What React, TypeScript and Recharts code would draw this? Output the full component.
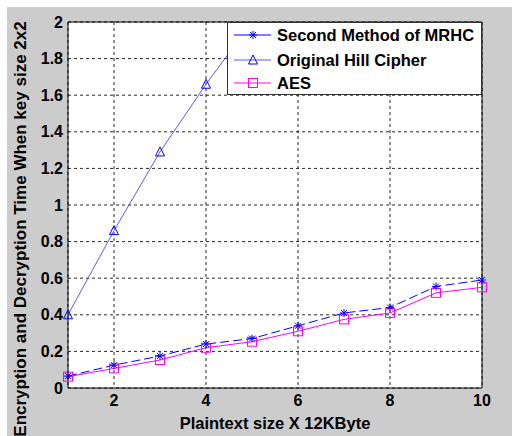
import React from 'react'
import { LineChart, Line, XAxis, YAxis, CartesianGrid, ReferenceLine } from 'recharts'

// plaintext size (x 12KByte)
const sizes = [1, 2, 3, 4, 5, 6, 7, 8, 9, 10]
// time values
const mrhc = [0.065, 0.125, 0.175, 0.24, 0.27, 0.34, 0.41, 0.44, 0.555, 0.59]
const hill = [0.4, 0.86, 1.29, 1.66, 2.0, 2.38, 2.74, 3.1, 3.46, 3.82]
const aes = [0.062, 0.107, 0.153, 0.22, 0.253, 0.31, 0.375, 0.41, 0.52, 0.55]

const xTicks = [2, 4, 6, 8, 10]
const yTicks = [0, 0.2, 0.4, 0.6, 0.8, 1, 1.2, 1.4, 1.6, 1.8, 2]

const seriesNames = ['Second Method of MRHC', 'Original Hill Cipher', 'AES']

const data = sizes.map((x, i) => ({ x, mrhc: mrhc[i], hill: hill[i], aes: aes[i] }))

const FONT = 'Arial, "Liberation Sans", Helvetica, sans-serif'
const BLUE = '#0000ff'
const LIGHT_BLUE = '#5a5aff'
const MAGENTA = '#ff00ff'

const Star = (p: any) => {
  const { cx, cy, index } = p
  if (cx == null || cy == null) return null
  const r = 4
  return (
    <g key={'s' + index} stroke={BLUE} strokeWidth={1}>
      <line x1={cx - r} y1={cy} x2={cx + r} y2={cy} />
      <line x1={cx} y1={cy - r} x2={cx} y2={cy + r} />
      <line x1={cx - 3} y1={cy - 3} x2={cx + 3} y2={cy + 3} />
      <line x1={cx - 3} y1={cy + 3} x2={cx + 3} y2={cy - 3} />
    </g>
  )
}

const Tri = (p: any) => {
  const { cx, cy, index } = p
  if (cx == null || cy == null) return null
  return (
    <polygon key={'t' + index} points={`${cx},${cy - 5} ${cx - 4.5},${cy + 4} ${cx + 4.5},${cy + 4}`}
      fill="none" stroke={BLUE} strokeWidth={1} />
  )
}

const Sq = (p: any) => {
  const { cx, cy, index } = p
  if (cx == null || cy == null) return null
  return <rect key={'q' + index} x={cx - 4.5} y={cy - 4.5} width={9} height={9} fill="none" stroke={MAGENTA} strokeWidth={1} />
}

function LegendBox() {
  const rows = [
    { y: 12, color: BLUE, mark: 'star' },
    { y: 37, color: LIGHT_BLUE, mark: 'tri' },
    { y: 60, color: MAGENTA, mark: 'sq' },
  ]
  return (
    <div style={{ position: 'absolute', left: 227, top: 22, width: 255, height: 73, background: '#fff', border: '1px solid #333', boxSizing: 'border-box' }}>
      <svg width={253} height={71} style={{ display: 'block' }}>
        {rows.map((r, i) => (
          <g key={i}>
            <line x1={6} y1={r.y} x2={43} y2={r.y} stroke={r.color} strokeWidth={1.2} />
            {r.mark === 'star' && Star({ cx: 25, cy: r.y, index: 'l' })}
            {r.mark === 'tri' && Tri({ cx: 25, cy: r.y, index: 'l' })}
            {r.mark === 'sq' && Sq({ cx: 25, cy: r.y, index: 'l' })}
            <text x={49} y={r.y} dominantBaseline="central" fontFamily={FONT} fontWeight="bold" fontSize={16.5} fill="#000">
              {seriesNames[i]}
            </text>
          </g>
        ))}
      </svg>
    </div>
  )
}

export default function App() {
  const tickStyle = { fontFamily: FONT, fontWeight: 'bold', fontSize: 16, fill: '#000' }
  return (
    <div style={{ position: 'absolute', left: 0, top: 0, width: 512, height: 436, background: '#fff', overflow: 'hidden' }}>
      <div style={{ position: 'absolute', left: 7, top: 7, width: 505, height: 429, background: '#cccccc' }}>
        <LineChart width={505} height={429} data={data} margin={{ top: 15, right: 30, bottom: 0, left: 0 }}>
          <CartesianGrid fill="#ffffff" stroke="#000" strokeDasharray="3 3" strokeOpacity={0.85} />
          <XAxis dataKey="x" type="number" domain={[1, 10]} ticks={xTicks} height={48}
            axisLine={{ stroke: '#000' }} tickLine={false} tickSize={0} tickMargin={7} tick={tickStyle}
            label={{ value: 'Plaintext size X 12KByte', position: 'insideBottom', offset: 7, style: { fontFamily: FONT, fontWeight: 'bold', fontSize: 16.5, fill: '#000' } }} />
          <YAxis type="number" domain={[0, 2]} ticks={yTicks} allowDataOverflow width={61}
            axisLine={{ stroke: '#000' }} tickLine={false} tickSize={0} tickMargin={5} tick={tickStyle}
            tickFormatter={(v: number) => String(v)}
            label={{
              content: () => (
                <text x={13} y={222} transform="rotate(-90 13 222)" textAnchor="middle" dominantBaseline="central"
                  fontFamily={FONT} fontWeight="bold" fontSize={17} fill="#000">
                  Encryption and Decryption Time When key size 2x2
                </text>
              ),
            }} />
          <ReferenceLine y={2} stroke="#000" strokeWidth={1} />
          <ReferenceLine x={10} stroke="#000" strokeWidth={1} />
          <Line dataKey="hill" stroke={LIGHT_BLUE} strokeWidth={1} dot={Tri} isAnimationActive={false} />
          <Line dataKey="aes" stroke={MAGENTA} strokeWidth={1} dot={Sq} isAnimationActive={false} />
          <Line dataKey="mrhc" stroke={BLUE} strokeWidth={1} strokeDasharray="9 4" dot={Star} isAnimationActive={false} />
        </LineChart>
      </div>
      <LegendBox />
    </div>
  )
}
